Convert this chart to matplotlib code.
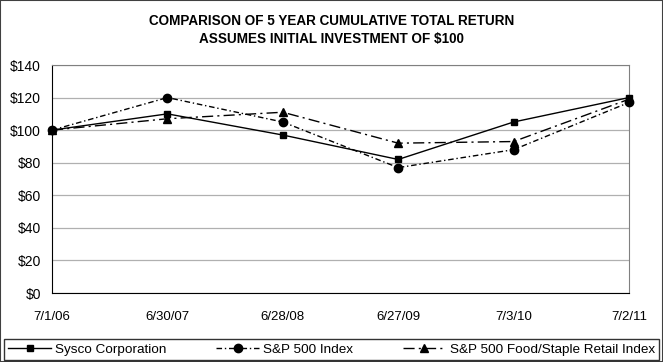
import matplotlib
matplotlib.use('Agg')
import matplotlib.pyplot as plt
from matplotlib.patches import Rectangle

plt.rcParams['font.family'] = ['Liberation Sans', 'DejaVu Sans']

# data
dates = ['7/1/06', '6/30/07', '6/28/08', '6/27/09', '7/3/10', '7/2/11']
sysco = [100, 110, 97, 82, 105, 120]
sp500 = [100, 120, 105, 77, 88, 117]
food_staple = [100, 107, 111, 92, 93, 119]
yticks = [0, 20, 40, 60, 80, 100, 120, 140]

fig = plt.figure(figsize=(6.63, 3.62), dpi=100)
ax = fig.add_axes([52/663, 69/362, 577/663, 228/362])

x = list(range(len(dates)))
h1, = ax.plot(x, sysco, color='black', lw=1.0, marker='s', ms=4.2,
              label='Sysco Corporation', zorder=5, clip_on=False)
h2, = ax.plot(x, sp500, color='black', lw=1.0, marker='o', ms=6,
              linestyle=(0, (4, 2, 1, 2)), label='S&P 500 Index', zorder=4, clip_on=False)
h3, = ax.plot(x, food_staple, color='black', lw=1.0, marker='^', ms=5.5,
              linestyle=(0, (8, 3, 1.5, 3)), label='S&P 500 Food/Staple Retail Index',
              zorder=3, clip_on=False)

ax.set_xlim(0, len(dates) - 1)
ax.set_ylim(0, 140)
ax.set_yticks(yticks)
ax.set_yticklabels([f'${v}' for v in yticks])
ax.set_xticks(x)
ax.set_xticklabels(dates)
ax.tick_params(length=0, labelsize=9.5)
ax.tick_params(axis='y', labelsize=10, pad=8)
ax.tick_params(axis='x', pad=13)
ax.grid(axis='y', color='#b0b0b0', lw=0.9)
ax.set_axisbelow(True)
for s in ['top', 'right']:
    ax.spines[s].set_color('#808080')
for s in ['left', 'bottom']:
    ax.spines[s].set_color('black')

fig.text(0.5, 0.943, 'COMPARISON OF 5 YEAR CUMULATIVE TOTAL RETURN',
         ha='center', va='center', fontsize=9.75, fontweight='bold')
fig.text(0.5, 0.893, 'ASSUMES INITIAL INVESTMENT OF $100',
         ha='center', va='center', fontsize=9.75, fontweight='bold')

leg = fig.legend(handles=[h1, h2, h3], loc='lower left', ncol=3, mode='expand',
                 bbox_to_anchor=(4/663, 2/362, 655/663, 26/362), borderaxespad=0,
                 fancybox=False, edgecolor='black', fontsize=9.7, handlelength=3.2,
                 handletextpad=0.3, columnspacing=1.0, borderpad=0.3)
leg.get_frame().set_linewidth(1.0)

fig.patches.append(Rectangle((0, 0), 1, 1, transform=fig.transFigure, fill=False,
                             edgecolor='#404040', lw=1.5))

fig.savefig('out.png', dpi=100)
